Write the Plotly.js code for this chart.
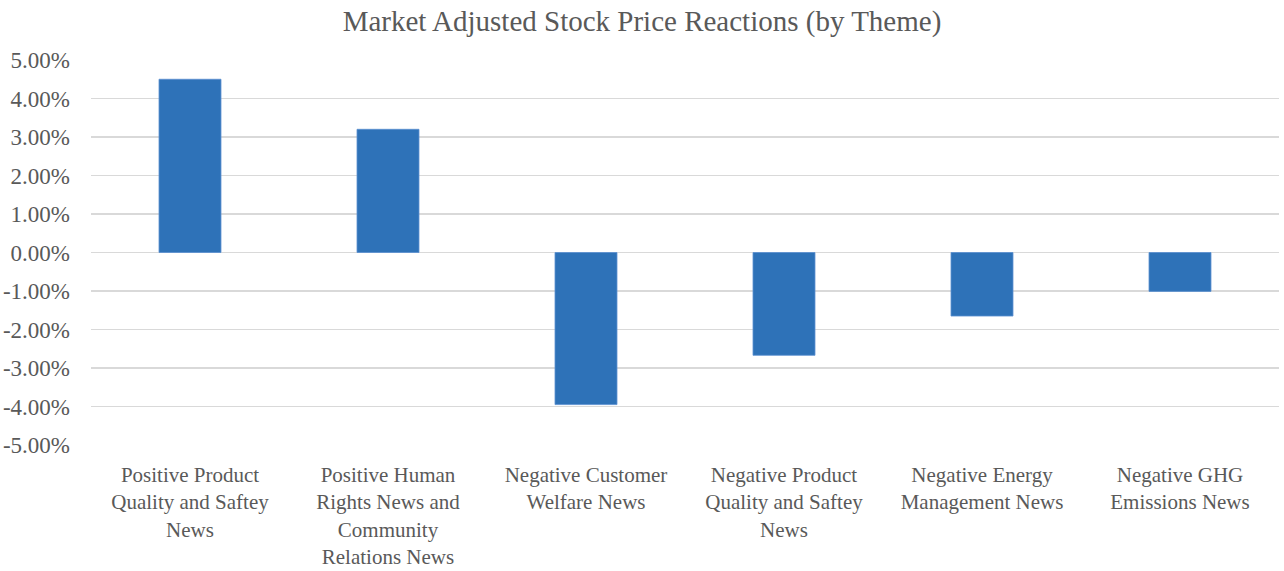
<!DOCTYPE html>
<html>
<head>
<meta charset="utf-8">
<script src="https://cdn.plot.ly/plotly-3.0.1.min.js"></script>
<style>
html,body{margin:0;padding:0;background:#fff;}
#chart{width:1284px;height:571px;}
</style>
</head>
<body>
<div id="chart"></div>
<script>
const chartTitle = "Market Adjusted Stock Price Reactions (by Theme)";
const categories = [
  "Positive Product<br>Quality and Saftey<br>News",
  "Positive Human<br>Rights News and<br>Community<br>Relations News",
  "Negative Customer<br>Welfare News",
  "Negative Product<br>Quality and Saftey<br>News",
  "Negative Energy<br>Management News",
  "Negative GHG<br>Emissions News"
];
const returns = [0.045, 0.032, -0.0395, -0.0267, -0.0165, -0.0101];
const yTickVals = [0.05, 0.04, 0.03, 0.02, 0.01, 0, -0.01, -0.02, -0.03, -0.04, -0.05];
const yTickText = ["5.00%", "4.00%", "3.00%", "2.00%", "1.00%", "0.00%", "-1.00%", "-2.00%", "-3.00%", "-4.00%", "-5.00%"];

const serif = "Liberation Serif";
const grey = "#595959";

const trace = {
  type: "bar",
  x: categories,
  y: returns,
  marker: {color: "#2E72B8", line: {color: "#5B8FD0", width: 0.8}},
  hoverinfo: "skip"
};

const layout = {
  width: 1284,
  height: 571,
  margin: {l: 91, r: 5, t: 60, b: 126},
  paper_bgcolor: "#ffffff",
  plot_bgcolor: "#ffffff",
  bargap: 0.687,
  showlegend: false,
  font: {family: serif, color: grey},
  title: {
    text: chartTitle,
    font: {family: serif, size: 29, color: grey},
    xref: "container", x: 0.5, xanchor: "center",
    yref: "container", y: 0.963, yanchor: "middle"
  },
  xaxis: {
    type: "category",
    showgrid: false,
    zeroline: false,
    showline: false,
    ticks: "",
    tickfont: {family: serif, size: 21, color: grey},
    ticklabelstandoff: 15,
    automargin: false
  },
  yaxis: {
    range: [-0.05, 0.05],
    tickvals: yTickVals,
    ticktext: yTickText,
    showgrid: true,
    gridcolor: "#d9d9d9",
    gridwidth: 1.3,
    zeroline: true,
    zerolinecolor: "#d9d9d9",
    zerolinewidth: 1.3,
    showline: false,
    ticks: "",
    ticklabelstandoff: 20,
    tickfont: {family: serif, size: 23, color: grey},
    automargin: false
  }
};

Plotly.newPlot("chart", [trace], layout, {displayModeBar: false, staticPlot: true});
</script>
</body>
</html>
